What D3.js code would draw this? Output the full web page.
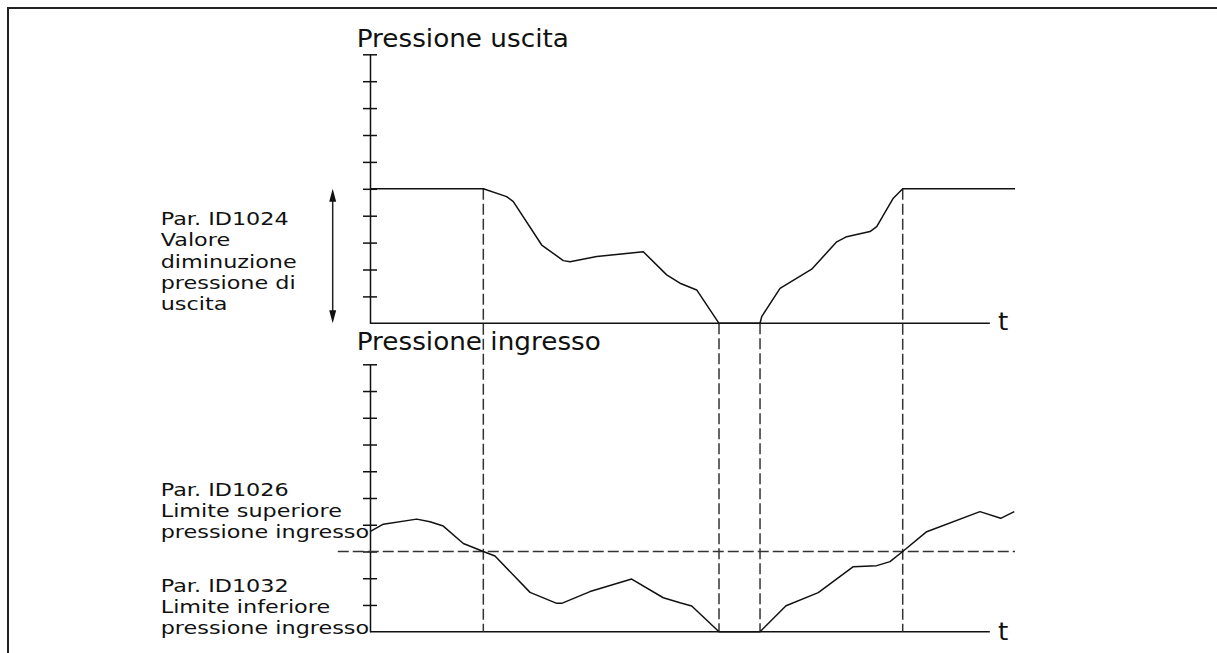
<!DOCTYPE html>
<html>
<head>
<meta charset="utf-8">
<script src="https://cdn.jsdelivr.net/npm/d3@7"></script>
<style>
  html, body { margin: 0; padding: 0; background: #fff; }
  svg { display: block; }
  text { font-family: "DejaVu Sans", Verdana, sans-serif; fill: #111; }
</style>
</head>
<body>
<script>
// ---- data ----
const outletTime = [0, 17.57, 21.19, 22.22, 26.62, 29.97, 31.01, 35.15, 42.37, 46.0, 48.06, 50.65, 54.11, 60.47, 60.73, 63.57, 68.48, 72.36, 73.91, 77.52, 78.56, 81.13, 82.59, 100];
const outletPressure = [5, 5, 4.71, 4.52, 2.91, 2.33, 2.29, 2.48, 2.66, 1.80, 1.49, 1.24, 0, 0, 0.25, 1.30, 2.01, 3.03, 3.22, 3.41, 3.59, 4.65, 5, 5];

const inletTime = [0, 2.06, 7.24, 9.30, 11.36, 14.47, 17.57, 19.38, 24.81, 28.95, 29.72, 34.11, 40.57, 45.47, 48.06, 49.88, 54.11, 60.47, 64.50, 69.50, 74.93, 78.56, 80.62, 82.59, 86.31, 94.57, 97.78, 99.89];
const inletPressure = [3.74, 4.02, 4.21, 4.11, 3.95, 3.30, 3.0, 2.83, 1.47, 1.06, 1.06, 1.50, 1.97, 1.27, 1.08, 0.96, 0, 0, 0.97, 1.46, 2.43, 2.47, 2.62, 3.0, 3.74, 4.49, 4.24, 4.49];

const eventTimes = [17.57, 54.11, 60.47, 82.59];
const eventOutletLevel = [5, 0, 0, 5];
const yTicks = [1, 2, 3, 4, 5, 6, 7, 8, 9, 10];
const outletDecrease = [0, 5];     // Par. ID1024 span
const inletLimit = 3;              // Par. ID1026 threshold
const axisEndTime = 96.1;

const titleOut = "Pressione uscita";
const titleIn = "Pressione ingresso";
const axisLabel = "t";
const labelOut = ["Par. ID1024", "Valore", "diminuzione", "pressione di", "uscita"];
const labelUpper = ["Par. ID1026", "Limite superiore", "pressione ingresso"];
const labelLower = ["Par. ID1032", "Limite inferiore", "pressione ingresso"];

// ---- layout ----
const W = 1217, H = 653;
const svg = d3.select("body").append("svg").attr("width", W).attr("height", H);

// frame
svg.append("path").attr("d", `M8,${H} V8 H${W}`).attr("fill", "none")
  .attr("stroke", "#222").attr("stroke-width", 2);

const x = d3.scaleLinear().domain([0, 100]).range([370, 1015]);
const yOut = d3.scaleLinear().domain([0, 10]).range([323.3, 54.3]);
const yIn = d3.scaleLinear().domain([0, 10]).range([631.7, 364.3]);

const lineW = 1.5;

function yAxis(scale) {
  const g = svg.append("g").attr("transform", `translate(${x(0)},0)`)
    .call(d3.axisLeft(scale).tickValues(yTicks).tickSize(7).tickSizeOuter(0).tickFormat(""));
  g.select(".domain").attr("stroke", "#111").attr("stroke-width", lineW);
  g.selectAll(".tick line").attr("x1", 7).attr("stroke", "#111").attr("stroke-width", lineW);
}
function xAxis(scale) {
  svg.append("line")
    .attr("x1", x(0)).attr("x2", x(axisEndTime))
    .attr("y1", scale(0)).attr("y2", scale(0))
    .attr("stroke", "#111").attr("stroke-width", lineW);
}
yAxis(yOut); xAxis(yOut);
yAxis(yIn); xAxis(yIn);

// dashed helpers
const dash = "11,4";
svg.append("line")
  .attr("x1", x(-5)).attr("x2", x(100))
  .attr("y1", yIn(inletLimit)).attr("y2", yIn(inletLimit))
  .attr("stroke", "#333").attr("stroke-width", lineW).attr("stroke-dasharray", dash);

svg.selectAll("line.ev").data(eventTimes).join("line").attr("class", "ev")
  .attr("x1", d => x(d)).attr("x2", d => x(d))
  .attr("y1", (d, i) => yOut(eventOutletLevel[i])).attr("y2", yIn(0))
  .attr("stroke", "#333").attr("stroke-width", lineW).attr("stroke-dasharray", dash);

// curves
const outData = outletTime.map((t, i) => [t, outletPressure[i]]);
const inData = inletTime.map((t, i) => [t, inletPressure[i]]);
svg.append("path").datum(outData)
  .attr("d", d3.line().x(d => x(d[0])).y(d => yOut(d[1])))
  .attr("fill", "none").attr("stroke", "#111").attr("stroke-width", lineW).attr("stroke-linejoin", "round");
svg.append("path").datum(inData)
  .attr("d", d3.line().x(d => x(d[0])).y(d => yIn(d[1])))
  .attr("fill", "none").attr("stroke", "#111").attr("stroke-width", lineW).attr("stroke-linejoin", "round");

// double arrow
const ax = 332.7, aTop = yOut(outletDecrease[1]), aBot = yOut(outletDecrease[0]);
svg.append("line").attr("x1", ax).attr("x2", ax).attr("y1", aTop + 10).attr("y2", aBot - 10)
  .attr("stroke", "#222").attr("stroke-width", lineW);
svg.append("path").attr("d", `M${ax},${aTop} L${ax - 3.5},${aTop + 13} L${ax + 3.5},${aTop + 13} Z`).attr("fill", "#111");
svg.append("path").attr("d", `M${ax},${aBot} L${ax - 3.5},${aBot - 13} L${ax + 3.5},${aBot - 13} Z`).attr("fill", "#111");

// text helper (source art is slightly stretched horizontally)
function txt(tx, ty, s, size, sx) {
  svg.append("text").attr("transform", `translate(${tx},${ty}) scale(${sx},1)`)
    .attr("font-size", size).text(s);
}
txt(356.7, 47, titleOut, 24, 1.095);
txt(356.7, 350, titleIn, 24, 1.095);
txt(998, 330, axisLabel, 24, 1.095);
txt(998, 640, axisLabel, 24, 1.095);

labelOut.forEach((s, i) => txt(160.7, 225 + i * 21.3, s, 18, 1.24));
labelUpper.forEach((s, i) => txt(160.7, 496 + i * 21, s, 18, 1.24));
labelLower.forEach((s, i) => txt(160.7, 591.5 + i * 21, s, 18, 1.24));
</script>
</body>
</html>
